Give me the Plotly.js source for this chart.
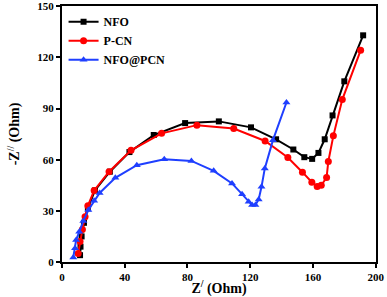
<!DOCTYPE html>
<html>
<head>
<meta charset="utf-8">
<script src="https://cdn.plot.ly/plotly-3.0.1.min.js"></script>
<style>html,body{margin:0;padding:0;background:#fff}#chart{width:387px;height:297px}</style>
</head>
<body>
<div id="chart"></div>
<script>
const seriesNames = ["NFO", "P-CN", "NFO@PCN"];
const nfoX = [11.5, 11.8, 12.5, 14, 16.5, 21, 30.5, 43, 58.5, 78.5, 100, 120.5, 136.5, 147.5, 154.5, 159.5, 163.5, 167.5, 172.5, 180, 192];
const nfoY = [4, 9, 15, 23, 31.5, 42, 53, 64.5, 74.5, 81.5, 82.5, 79, 72, 66, 61.5, 60.5, 64, 72, 86, 106, 133];
const pcnX = [10.3, 11.5, 13, 14.7, 16.5, 20.5, 30, 44, 63.5, 86, 109.5, 129.5, 144, 153.3, 159.3, 162.7, 165.3, 168.7, 169.8, 173, 178.7, 190.4];
const pcnY = [5, 12, 19, 26.5, 33, 42, 53, 65.5, 75.5, 80.3, 78.3, 71, 61.3, 52.7, 46.8, 44.3, 45, 49.6, 59, 74, 95.3, 124.2];
const compX = [7.2, 8.3, 9, 11, 13.6, 16.8, 20.5, 24, 34, 47.7, 65.2, 82.5, 96.7, 108.4, 114.8, 119, 121.2, 123.3, 125.4, 127.2, 129.3, 134.5, 143.1];
const compY = [2.7, 8, 12.9, 17.7, 24, 30.5, 36, 40.5, 49.4, 56.8, 60.3, 59.3, 53.5, 46.1, 39.8, 35.3, 33.4, 33.4, 36.7, 44.1, 54.9, 71.5, 93.6];
const xTicks = [0, 40, 80, 120, 160, 200];
const yTicks = [0, 30, 60, 90, 120, 150];

const F = "Liberation Serif, 'Times New Roman', serif";
const traces = [
  {x: nfoX, y: nfoY, name: seriesNames[0], mode: "lines+markers", line: {color: "#000000", width: 2}, marker: {symbol: "square", size: 6, color: "#000000"}},
  {x: pcnX, y: pcnY, name: seriesNames[1], mode: "lines+markers", line: {color: "#ff0000", width: 2}, marker: {symbol: "circle", size: 7, color: "#ff0000"}},
  {x: compX, y: compY, name: seriesNames[2], mode: "lines+markers", line: {color: "#1f3fff", width: 2}, marker: {symbol: "triangle-up", size: 7, color: "#1f3fff"}}
];
const axisCommon = {
  showline: true, linecolor: "#000", linewidth: 2, mirror: true,
  ticks: "outside", ticklen: 4, tickwidth: 2, tickcolor: "#000",
  showgrid: false, zeroline: false,
  tickfont: {family: F, size: 11, color: "#000", weight: "bold"}
};
const layout = {
  width: 387, height: 297,
  margin: {l: 62, r: 11, t: 6, b: 35},
  paper_bgcolor: "#fff", plot_bgcolor: "#fff",
  showlegend: true,
  legend: {x: 0.005, y: 0.995, xanchor: "left", yanchor: "top", bgcolor: "rgba(0,0,0,0)",
           font: {family: F, size: 12, color: "#000", weight: "bold"}, itemwidth: 30, tracegroupgap: 0},
  xaxis: Object.assign({}, axisCommon, {range: [0, 200.2], tickvals: xTicks, ticktext: xTicks.map(String),
    title: {text: "Z<sup>/</sup> (Ohm)", standoff: 4, font: {family: F, size: 14, color: "#000", weight: "bold"}}}),
  yaxis: Object.assign({}, axisCommon, {range: [0, 150.2], tickvals: yTicks, ticktext: yTicks.map(String),
    title: {text: "-Z<sup>//</sup> (Ohm)", standoff: 14, font: {family: F, size: 14, color: "#000", weight: "bold"}}})
};
Plotly.newPlot("chart", traces, layout, {displayModeBar: false, staticPlot: true});
</script>
</body>
</html>
